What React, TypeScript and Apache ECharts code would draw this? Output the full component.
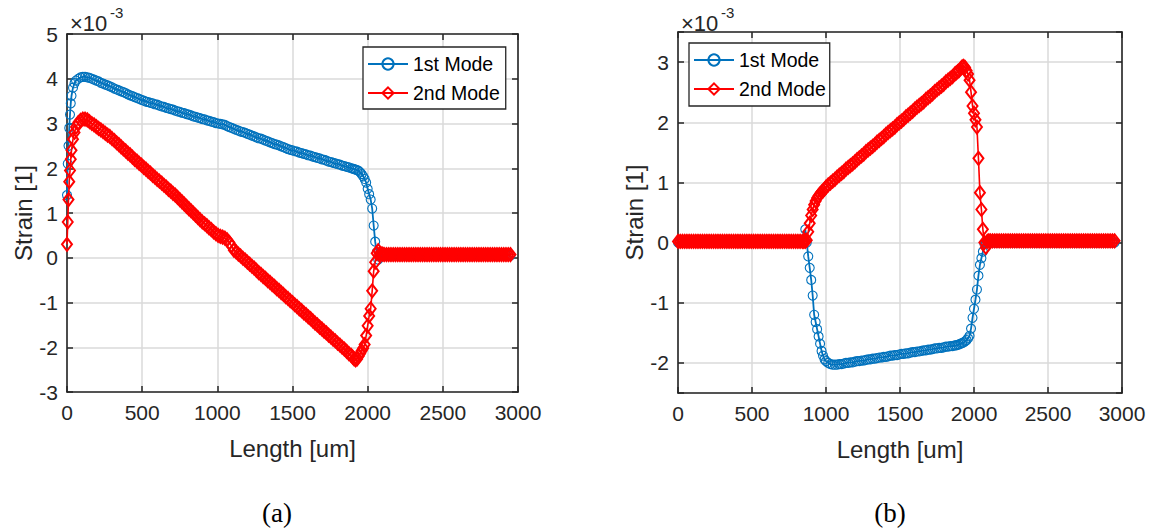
import React, { useEffect, useRef } from "react";
import * as echarts from "echarts";

// ---------- data ----------
// (a) sample positions along the length [um]
const lengthA = [0, 5, 10, 15, 20, 25, 30, 40, 50, 60, 75, 90, 105, 120, 135, 150,
  165, 180, 195, 210, 225, 240, 255, 270, 285, 300, 315, 330, 345, 360, 375, 390, 405, 420, 435, 450, 465, 480, 495,
  510, 525, 540, 555, 570, 585, 600, 615, 630, 645, 660, 675, 690, 705, 720, 735, 750, 765, 780, 795, 810, 825, 840,
  855, 870, 885, 900, 915, 930, 945, 960, 975, 990,
  1005, 1020, 1035, 1050, 1065, 1080, 1095,
  1110, 1125, 1140, 1155, 1170, 1185, 1200, 1215, 1230, 1245, 1260, 1275, 1290, 1305, 1320, 1335, 1350, 1365, 1380,
  1395, 1410, 1425, 1440, 1455, 1470, 1485, 1500,
  1515, 1530, 1545, 1560, 1575, 1590, 1605, 1620, 1635, 1650, 1665, 1680, 1695, 1710, 1725, 1740, 1755, 1770, 1785,
  1800, 1815, 1830, 1845, 1860, 1875,
  1890, 1900, 1910, 1920, 1930, 1940, 1950, 1960, 1970, 1980, 1990, 2000, 2010, 2020, 2030, 2040, 2050, 2060, 2070, 2080, 2090, 2100,
  2110, 2125, 2140, 2155, 2170, 2185, 2200, 2215, 2230, 2245, 2260, 2275, 2290, 2305, 2320, 2335, 2350, 2365, 2380,
  2395, 2410, 2425, 2440, 2455, 2470, 2485, 2500, 2515, 2530, 2545, 2560, 2575, 2590, 2605, 2620, 2635, 2650, 2665,
  2680, 2695, 2710, 2725, 2740, 2755, 2770, 2785, 2800, 2815, 2830, 2845, 2860, 2875, 2890, 2905, 2920, 2935, 2950];

// (a) 1st mode strain [x1e-3]
const mode1A = [1.4, 2.1, 2.5, 2.9, 3.2, 3.45, 3.62, 3.8, 3.9, 3.96, 4.0, 4.03, 4.04, 4.04, 4.03, 4.02,
  4.00, 3.98, 3.96, 3.94, 3.91, 3.89, 3.87, 3.85, 3.83, 3.81, 3.78, 3.76, 3.74, 3.72, 3.70, 3.68, 3.65, 3.63, 3.61, 3.59, 3.57, 3.55, 3.53,
  3.51, 3.49, 3.48, 3.46, 3.45, 3.43, 3.42, 3.40, 3.38, 3.37, 3.35, 3.34, 3.32, 3.31, 3.29, 3.27, 3.26, 3.24, 3.23, 3.21, 3.20, 3.18, 3.16,
  3.15, 3.13, 3.12, 3.10, 3.09, 3.07, 3.06, 3.04, 3.03, 3.01,
  3.00, 2.99, 2.98, 2.97, 2.94, 2.92, 2.90,
  2.88, 2.86, 2.84, 2.82, 2.81, 2.79, 2.77, 2.75, 2.73, 2.71, 2.69, 2.67, 2.66, 2.64, 2.62, 2.60, 2.58, 2.56, 2.54,
  2.53, 2.51, 2.49, 2.47, 2.45, 2.43, 2.41, 2.40,
  2.38, 2.37, 2.35, 2.34, 2.32, 2.31, 2.29, 2.28, 2.26, 2.25, 2.23, 2.22, 2.20, 2.19, 2.17, 2.15, 2.14, 2.12, 2.11,
  2.09, 2.08, 2.06, 2.05, 2.03, 2.02,
  2.00, 1.99, 1.98, 1.97, 1.96, 1.94, 1.91, 1.87, 1.82, 1.76, 1.68, 1.54, 1.42, 1.30, 1.10, 0.72, 0.36, 0.12, -0.04, 0.02, 0.05, 0.05,
  0.05, 0.05, 0.05, 0.05, 0.05, 0.05, 0.05, 0.05, 0.05, 0.05, 0.05, 0.05, 0.05, 0.05, 0.05, 0.05, 0.05, 0.05, 0.05,
  0.05, 0.05, 0.05, 0.05, 0.05, 0.05, 0.05, 0.05, 0.05, 0.05, 0.05, 0.05, 0.05, 0.05, 0.05, 0.05, 0.05, 0.05, 0.05,
  0.05, 0.05, 0.05, 0.05, 0.05, 0.05, 0.05, 0.05, 0.05, 0.05, 0.05, 0.05, 0.05, 0.05, 0.05, 0.05, 0.05, 0.05, 0.05];

// (a) 2nd mode strain [x1e-3]
const mode2A = [0.3, 0.8, 1.3, 1.7, 1.95, 2.2, 2.4, 2.65, 2.8, 2.92, 3.02, 3.07, 3.1, 3.1, 3.08, 3.04,
  3.00, 2.97, 2.93, 2.89, 2.86, 2.82, 2.78, 2.74, 2.71, 2.66, 2.62, 2.57, 2.53, 2.48, 2.43, 2.39, 2.34, 2.30, 2.25, 2.20, 2.16, 2.11, 2.07,
  2.02, 1.98, 1.93, 1.89, 1.84, 1.80, 1.75, 1.71, 1.67, 1.62, 1.58, 1.53, 1.49, 1.44, 1.40, 1.35, 1.30, 1.25, 1.20, 1.15, 1.10, 1.05, 1.00,
  0.95, 0.90, 0.85, 0.80, 0.76, 0.72, 0.67, 0.63, 0.58, 0.54,
  0.50, 0.48, 0.46, 0.44, 0.40, 0.34, 0.26,
  0.17, 0.13, 0.08, 0.04, -0.01, -0.05, -0.10, -0.14, -0.19, -0.23, -0.28, -0.33, -0.37, -0.42, -0.46, -0.51, -0.55, -0.60, -0.64,
  -0.69, -0.73, -0.78, -0.82, -0.87, -0.91, -0.96, -1.00,
  -1.05, -1.09, -1.14, -1.18, -1.23, -1.27, -1.32, -1.36, -1.41, -1.46, -1.50, -1.55, -1.59, -1.64, -1.68, -1.73, -1.77, -1.82, -1.86,
  -1.91, -1.95, -2.00, -2.04, -2.09, -2.14,
  -2.18, -2.22, -2.26, -2.28, -2.26, -2.20, -2.14, -2.08, -2.02, -1.94, -1.74, -1.52, -1.30, -1.14, -0.74, -0.30, -0.10, 0.10, 0.16, 0.09, 0.08, 0.08,
  0.07, 0.07, 0.07, 0.07, 0.07, 0.07, 0.07, 0.07, 0.07, 0.07, 0.07, 0.07, 0.07, 0.07, 0.07, 0.07, 0.07, 0.07, 0.07,
  0.07, 0.07, 0.07, 0.07, 0.07, 0.07, 0.07, 0.07, 0.07, 0.07, 0.07, 0.07, 0.07, 0.07, 0.07, 0.07, 0.07, 0.07, 0.07,
  0.07, 0.07, 0.07, 0.07, 0.07, 0.07, 0.07, 0.07, 0.07, 0.07, 0.07, 0.07, 0.07, 0.07, 0.07, 0.07, 0.07, 0.07, 0.07];

// (b) sample positions along the length [um]
const lengthB = [0, 15, 30, 45, 60, 75, 90, 105, 120, 135, 150, 165, 180, 195, 210, 225, 240, 255, 270,
  285, 300, 315, 330, 345, 360, 375, 390, 405, 420, 435, 450, 465, 480, 495, 510, 525, 540, 555,
  570, 585, 600, 615, 630, 645, 660, 675, 690, 705, 720, 735, 750, 765, 780, 795, 810, 825, 840,
  850, 860, 870, 880, 890, 900, 910, 920, 930, 940, 950, 960, 970, 980, 990, 1000,
  1015, 1030, 1045, 1060, 1075, 1090, 1105, 1120, 1135, 1150, 1165, 1180, 1195, 1210, 1225, 1240, 1255, 1270, 1285,
  1300, 1315, 1330, 1345, 1360, 1375, 1390, 1405, 1420, 1435, 1450, 1465, 1480, 1495, 1510, 1525, 1540, 1555, 1570,
  1585, 1600, 1615, 1630, 1645, 1660, 1675, 1690, 1705, 1720, 1735, 1750, 1765, 1780, 1795, 1810, 1825, 1840, 1855, 1870,
  1880, 1890, 1900, 1910, 1920, 1930, 1940, 1950, 1960, 1970, 1980, 1990, 2000, 2010, 2020, 2030, 2040, 2050, 2060, 2070, 2080, 2090, 2100,
  2110, 2125, 2140, 2155, 2170, 2185, 2200, 2215, 2230, 2245, 2260, 2275, 2290, 2305, 2320, 2335, 2350, 2365, 2380,
  2395, 2410, 2425, 2440, 2455, 2470, 2485, 2500, 2515, 2530, 2545, 2560, 2575, 2590, 2605, 2620, 2635, 2650, 2665,
  2680, 2695, 2710, 2725, 2740, 2755, 2770, 2785, 2800, 2815, 2830, 2845, 2860, 2875, 2890, 2905, 2920, 2935, 2950];

// (b) 1st mode strain [x1e-3]
const mode1B = [0, 0, 0, 0, 0, 0, 0, 0, 0, 0, 0, 0, 0, 0, 0, 0, 0, 0, 0,
  0, 0, 0, 0, 0, 0, 0, 0, 0, 0, 0, 0, 0, 0, 0, 0, 0, 0, 0,
  0, 0, 0, 0, 0, 0, 0, 0, 0, 0, 0, 0, 0, 0, 0, 0, 0, 0, 0,
  0.04, 0.22, 0.0, -0.23, -0.42, -0.62, -0.88, -1.2, -1.32, -1.44, -1.56, -1.68, -1.80, -1.88, -1.94, -1.97,
  -2.00, -2.02, -2.03, -2.03, -2.03, -2.02, -2.02, -2.01, -2.00, -2.00, -1.99, -1.99, -1.98, -1.97, -1.97, -1.96, -1.96, -1.95, -1.94,
  -1.94, -1.93, -1.93, -1.92, -1.91, -1.91, -1.90, -1.90, -1.89, -1.88, -1.88, -1.87, -1.87, -1.86, -1.85, -1.85, -1.84, -1.84, -1.83,
  -1.82, -1.82, -1.81, -1.81, -1.80, -1.79, -1.79, -1.78, -1.78, -1.77, -1.76, -1.76, -1.75, -1.75, -1.74, -1.73, -1.73, -1.72, -1.72, -1.71,
  -1.71, -1.70, -1.69, -1.68, -1.67, -1.66, -1.64, -1.62, -1.59, -1.55, -1.43, -1.25, -1.10, -0.95, -0.78, -0.55, -0.37, -0.26, -0.15, -0.02, 0, 0, 0,
  0, 0, 0, 0, 0, 0, 0, 0, 0, 0, 0, 0, 0, 0, 0, 0, 0, 0, 0,
  0, 0, 0, 0, 0, 0, 0, 0, 0, 0, 0, 0, 0, 0, 0, 0, 0, 0, 0,
  0, 0, 0, 0, 0, 0, 0, 0, 0, 0, 0, 0, 0, 0, 0, 0, 0, 0, 0];

// (b) 2nd mode strain [x1e-3]
const mode2B = [0.02, 0.02, 0.02, 0.02, 0.02, 0.02, 0.02, 0.02, 0.02, 0.02, 0.02, 0.02, 0.02, 0.02, 0.02, 0.02, 0.02, 0.02, 0.02,
  0.02, 0.02, 0.02, 0.02, 0.02, 0.02, 0.02, 0.02, 0.02, 0.02, 0.02, 0.02, 0.02, 0.02, 0.02, 0.02, 0.02, 0.02, 0.02,
  0.02, 0.02, 0.02, 0.02, 0.02, 0.02, 0.02, 0.02, 0.02, 0.02, 0.02, 0.02, 0.02, 0.02, 0.02, 0.02, 0.02, 0.02, 0.02,
  0.02, 0.02, 0.04, 0.18, 0.32, 0.45, 0.55, 0.63, 0.69, 0.74, 0.78, 0.81, 0.84, 0.86, 0.89, 0.92,
  0.96, 0.99, 1.02, 1.05, 1.09, 1.12, 1.15, 1.18, 1.22, 1.25, 1.28, 1.31, 1.34, 1.38, 1.41, 1.44, 1.47, 1.51, 1.54,
  1.57, 1.60, 1.63, 1.67, 1.70, 1.73, 1.76, 1.80, 1.83, 1.86, 1.89, 1.92, 1.96, 1.99, 2.02, 2.05, 2.09, 2.12, 2.15,
  2.18, 2.22, 2.25, 2.28, 2.31, 2.34, 2.38, 2.41, 2.44, 2.47, 2.51, 2.54, 2.57, 2.60, 2.63, 2.67, 2.70, 2.73, 2.76, 2.80,
  2.82, 2.84, 2.86, 2.89, 2.92, 2.93, 2.91, 2.86, 2.80, 2.70, 2.50, 2.27, 2.15, 2.04, 1.92, 1.40, 0.83, 0.55, 0.22, 0.0, -0.08, 0.02, 0.03,
  0.03, 0.03, 0.03, 0.03, 0.03, 0.03, 0.03, 0.03, 0.03, 0.03, 0.03, 0.03, 0.03, 0.03, 0.03, 0.03, 0.03, 0.03, 0.03,
  0.03, 0.03, 0.03, 0.03, 0.03, 0.03, 0.03, 0.03, 0.03, 0.03, 0.03, 0.03, 0.03, 0.03, 0.03, 0.03, 0.03, 0.03, 0.03,
  0.03, 0.03, 0.03, 0.03, 0.03, 0.03, 0.03, 0.03, 0.03, 0.03, 0.03, 0.03, 0.03, 0.03, 0.03, 0.03, 0.03, 0.03, 0.03];

const seriesNames = ["1st Mode", "2nd Mode"];
const xLabel = "Length [um]";
const yLabel = "Strain [1]";
const scaleExp = "-3";
const captions = ["(a)", "(b)"];

// ---------- style ----------
const FONT = '"Liberation Sans", Arial, Helvetica, sans-serif';
const SERIF = '"Liberation Serif", "Times New Roman", serif';
const AX = "#262626";
const GRIDC = "#dadada";
const BLUE = "#0072BD";
const RED = "#FF0000";

function pairs(xs: number[], ys: number[]) {
  return xs.map((x, i) => [x, ys[i]]);
}

export default function App() {
  const ref = useRef<HTMLDivElement>(null);

  useEffect(() => {
    document.body.style.margin = "0";
    if (!ref.current) return;
    const chart = echarts.init(ref.current, undefined, { renderer: "svg" });

    const grids = [
      { left: 67, top: 34, width: 451, height: 358 },
      { left: 678, top: 32, width: 444, height: 361 },
    ];

    const xAxes: any[] = [];
    const yAxes: any[] = [];
    grids.forEach((_, gi) => {
      const tick = { show: true, inside: true, length: 6, lineStyle: { color: AX, width: 1.5 } };
      const line = { show: true, onZero: false, lineStyle: { color: AX, width: 1.6 } };
      xAxes.push({
        gridIndex: gi, type: "value", min: 0, max: 3000, interval: 500, position: "bottom",
        name: xLabel, nameLocation: "middle", nameGap: 44,
        nameTextStyle: { fontSize: 24, color: AX, fontFamily: FONT },
        axisLine: line, axisTick: tick,
        axisLabel: { fontSize: 21, color: AX, margin: 10, fontFamily: FONT, formatter: (v: number) => String(v) },
        splitLine: { show: true, lineStyle: { color: GRIDC, width: 1.5 } },
      });
      xAxes.push({
        gridIndex: gi, type: "value", min: 0, max: 3000, interval: 500, position: "top",
        axisLine: line, axisTick: tick, axisLabel: { show: false }, splitLine: { show: false },
      });
      const yRange = gi === 0
        ? { min: -3, max: 5, interval: 1 }
        : { min: -2.5, max: 3.5, splitNumber: 6 };
      const fmt = (v: number) => (Math.abs(v - Math.round(v)) < 1e-9 ? String(Math.round(v)) : "");
      yAxes.push({
        gridIndex: gi, type: "value", ...yRange, position: "left",
        name: yLabel, nameLocation: "middle", nameRotate: 90, nameGap: 29,
        nameTextStyle: { fontSize: 24, color: AX, fontFamily: FONT },
        axisLine: line, axisTick: tick,
        axisLabel: { fontSize: 21, color: AX, margin: 9, fontFamily: FONT, formatter: fmt },
        splitLine: { show: true, lineStyle: { color: GRIDC, width: 1.5 } },
      });
      yAxes.push({
        gridIndex: gi, type: "value", ...yRange, position: "right",
        axisLine: line, axisTick: tick, axisLabel: { show: false }, splitLine: { show: false },
      });
    });

    const mk = (gi: number, name: string, data: number[][], isFirst: boolean) => ({
      name, type: "line", xAxisIndex: gi * 2, yAxisIndex: gi * 2, data,
      symbol: isFirst ? "circle" : "diamond",
      symbolSize: isFirst ? 9 : [10, 13],
      showSymbol: true, showAllSymbol: true, clip: false,
      lineStyle: { color: isFirst ? BLUE : RED, width: isFirst ? 1.8 : 1.6 },
      itemStyle: { color: "rgba(255,255,255,0)", borderColor: isFirst ? BLUE : RED, borderWidth: isFirst ? 1.1 : 2 },
      emphasis: { disabled: true },
      z: isFirst ? 2 : 3,
    });

    const legendBase = {
      data: seriesNames, orient: "vertical", itemWidth: 40, itemHeight: 14, itemGap: 9, itemTextGap: 5,
      borderColor: AX, borderWidth: 1.3, backgroundColor: "#fff", selectedMode: false,
      textStyle: { fontSize: 19.5, color: "#000", fontFamily: FONT }, z: 10,
    };

    const texts: any[] = [];
    const expPos = [70, 681];
    expPos.forEach((px) => {
      texts.push({ type: "text", x: px, y: 23, style: { text: "×10", fontSize: 22, fontFamily: FONT, fill: AX, verticalAlign: "middle" } });
      texts.push({ type: "text", x: px + 40, y: 12, style: { text: scaleExp, fontSize: 15, fontFamily: FONT, fill: AX, verticalAlign: "middle" } });
    });
    texts.push({ type: "text", x: 277, y: 513, style: { text: captions[0], fontSize: 27, fontFamily: SERIF, fill: "#000", align: "center", verticalAlign: "middle" } });
    texts.push({ type: "text", x: 890, y: 513, style: { text: captions[1], fontSize: 27, fontFamily: SERIF, fill: "#000", align: "center", verticalAlign: "middle" } });

    chart.setOption({
      animation: false,
      backgroundColor: "#fff",
      grid: grids,
      xAxis: xAxes,
      yAxis: yAxes,
      legend: [
        { ...legendBase, left: 363, top: 47, padding: [7, 6, 6, 4] },
        { ...legendBase, left: 689, top: 43, padding: [7, 4, 7, 4] },
      ],
      series: [
        mk(0, seriesNames[0], pairs(lengthA, mode1A), true),
        mk(0, seriesNames[1], pairs(lengthA, mode2A), false),
        mk(1, seriesNames[0], pairs(lengthB, mode1B), true),
        mk(1, seriesNames[1], pairs(lengthB, mode2B), false),
      ],
      graphic: texts,
    });

    return () => chart.dispose();
  }, []);

  return <div ref={ref} style={{ width: 1159, height: 529, position: "absolute", left: 0, top: 0 }} />;
}
